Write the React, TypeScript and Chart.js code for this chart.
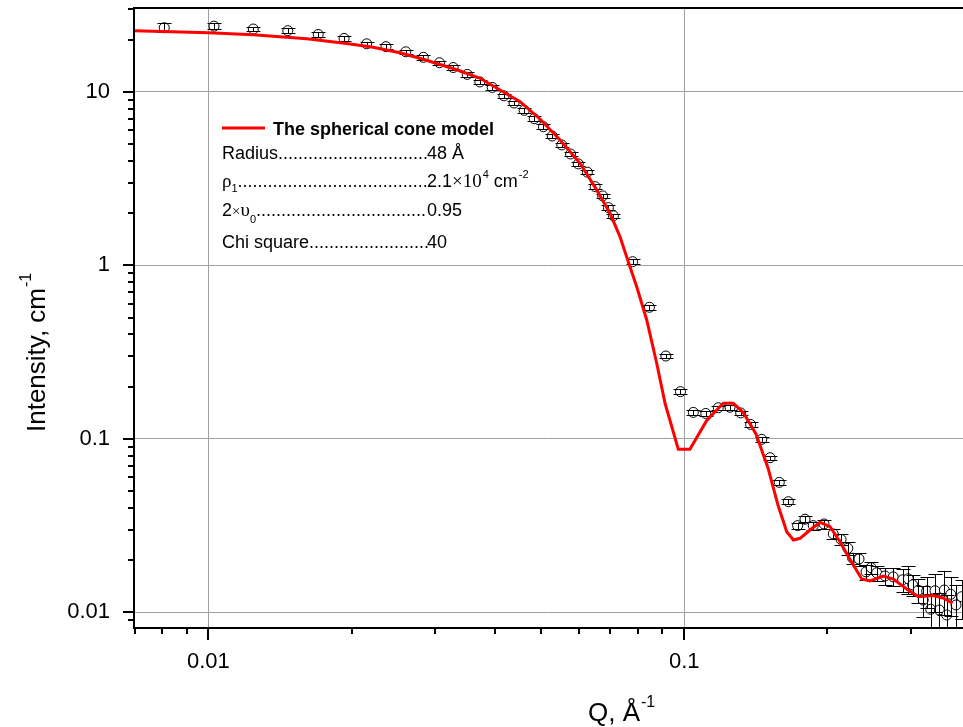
import React, { useEffect, useRef } from 'react';
import { Chart, registerables } from 'chart.js';

Chart.register(...registerables);

// ---------- data ----------
const qData = [
  0.00808, 0.01028, 0.01243, 0.01469, 0.01702, 0.01929, 0.02152, 0.02362, 0.0260, 0.0283,
  0.0306, 0.0327, 0.0350, 0.0372, 0.0395, 0.0418, 0.0439, 0.0461, 0.0484, 0.0506,
  0.0528, 0.0553, 0.0577, 0.0599, 0.0626, 0.0650, 0.0674, 0.0693, 0.0710,
  0.0779, 0.0845, 0.0915, 0.0982,
  0.1045, 0.1110, 0.1179, 0.1248, 0.1314, 0.1379, 0.1455, 0.1515, 0.1584, 0.1655,
  0.1731, 0.1794, 0.1867, 0.1967, 0.2057, 0.2136, 0.2207, 0.2259, 0.2330, 0.2410,
  0.2469, 0.2537, 0.2642, 0.2750, 0.2877, 0.2957, 0.3020, 0.3103, 0.3178, 0.3232,
  0.3296, 0.3365, 0.3436, 0.3520, 0.3561, 0.3631, 0.3725, 0.3829,
];
const intensityData = [
  23.4, 23.9, 23.0, 22.5, 21.4, 20.3, 18.9, 18.2, 17.0, 15.8,
  14.7, 13.8, 12.6, 11.4, 10.6, 9.48, 8.62, 7.82, 7.00, 6.29,
  5.56, 4.94, 4.38, 3.84, 3.44, 2.84, 2.51, 2.15, 1.93,
  1.049, 0.573, 0.300, 0.187,
  0.142, 0.140, 0.151, 0.152, 0.141, 0.121, 0.0993, 0.0778, 0.0561, 0.0434,
  0.0316, 0.0344, 0.0316, 0.0323, 0.0283, 0.0263, 0.0234, 0.0205, 0.0203, 0.0171,
  0.0181, 0.0169, 0.0162, 0.0160, 0.0154, 0.0156, 0.0144, 0.0134, 0.01177, 0.01327,
  0.01041, 0.01332, 0.01031, 0.01344, 0.00965, 0.0127, 0.01102, 0.0123,
];
const intensityErr = [
  1.4, 1.0, 0.69, 0.68, 0.64, 0.61, 0.57, 0.55, 0.51, 0.47,
  0.44, 0.41, 0.38, 0.34, 0.32, 0.28, 0.26, 0.23, 0.21, 0.19,
  0.17, 0.15, 0.13, 0.12, 0.10, 0.085, 0.075, 0.065, 0.058,
  0.031, 0.017, 0.009, 0.0056,
  0.0043, 0.0042, 0.0045, 0.0046, 0.0042, 0.0036, 0.0030, 0.0023, 0.0017, 0.0013,
  0.0013, 0.0014, 0.0016, 0.0019, 0.0020, 0.0018, 0.0019, 0.0016, 0.0018, 0.0017,
  0.0014, 0.0017, 0.0019, 0.0019, 0.0023, 0.0028, 0.0020, 0.0021, 0.0024, 0.0027,
  0.0023, 0.0033, 0.0026, 0.0038, 0.0029, 0.0032, 0.0033, 0.0031,
];

const modelQ = [
  0.00698, 0.0100, 0.01241, 0.01610, 0.01953, 0.02219, 0.02528, 0.02829, 0.03327, 0.03724,
  0.04101, 0.04519, 0.04977, 0.05483, 0.06040, 0.06548, 0.06983, 0.07330, 0.07629, 0.07947,
  0.08342, 0.08754, 0.09114, 0.09718, 0.1028, 0.1115, 0.1208, 0.1268, 0.1331, 0.1415,
  0.1500, 0.1574, 0.1642, 0.1696, 0.1752, 0.1838, 0.1929, 0.2025, 0.2125, 0.2209,
  0.2360, 0.2457, 0.2620, 0.2750, 0.2934, 0.3103, 0.3338, 0.3502, 0.3662,
];
const modelIntensity = [
  22.5, 21.9, 21.3, 20.2, 19.0, 18.05, 16.8, 15.4, 13.4, 11.96,
  10.24, 8.77, 6.97, 5.28, 3.87, 2.72, 1.994, 1.462, 1.049, 0.7525,
  0.4839, 0.2724, 0.1602, 0.0870, 0.0870, 0.1275, 0.1602, 0.1602, 0.1418, 0.1066,
  0.0679, 0.0415, 0.02914, 0.02611, 0.0267, 0.02981, 0.03302, 0.03114, 0.02552, 0.02112,
  0.01555, 0.01515, 0.01619, 0.01555, 0.01362, 0.0123, 0.0125, 0.01209, 0.01127,
];

// ---------- axes ----------
const xTickValues = [0.007, 0.008, 0.009, 0.01, 0.02, 0.03, 0.04, 0.05, 0.06, 0.07, 0.08, 0.09, 0.1, 0.2, 0.3];
const xMajorValues = [0.01, 0.1];
const xMajorLabels = ['0.01', '0.1'];
const yTickValues = [
  0.009, 0.01, 0.02, 0.03, 0.04, 0.05, 0.06, 0.07, 0.08, 0.09,
  0.1, 0.2, 0.3, 0.4, 0.5, 0.6, 0.7, 0.8, 0.9,
  1, 2, 3, 4, 5, 6, 7, 8, 9, 10, 20, 30,
];
const yMajorValues = [0.01, 0.1, 1, 10];
const yMajorLabels = ['0.01', '0.1', '1', '10'];
const xRange = [0.00698, 0.3853];
const yRange = [0.00812, 30.4];

const xTitle = ['Q, Å', '-1'];
const yTitle = ['Intensity, cm', '-1'];

// ---------- legend ----------
const legendTitle = 'The spherical cone model';
const legendRadius = ['Radius', '48 Å'];
const legendRho = ['ρ', '1', '2.1', '×10', '4', ' cm', '-2'];
const legendNu = ['2', '×', 'υ', '0', '0.95'];
const legendChi = ['Chi square', '40'];

const SANS = '"Liberation Sans", Arial, Helvetica, sans-serif';
const SERIF = '"Liberation Serif", "Times New Roman", serif';

const isMajor = (v: number) => Math.abs(Math.log10(v) - Math.round(Math.log10(v))) < 1e-9;

const overlayPlugin = {
  id: 'overlay',
  afterDatasetDraw(chart: any, args: any) {
    if (args.index !== 1) return;
    const ctx = chart.ctx;
    const xs = chart.scales.x;
    const ys = chart.scales.y;
    const a = chart.chartArea;
    ctx.save();
    ctx.beginPath();
    ctx.rect(a.left, a.top, a.right - a.left, a.bottom - a.top);
    ctx.clip();
    ctx.strokeStyle = '#000';
    ctx.lineWidth = 1;
    for (let i = 0; i < qData.length; i++) {
      const px = Math.round(xs.getPixelForValue(qData[i])) + 0.5;
      const yHi = Math.round(ys.getPixelForValue(intensityData[i] + intensityErr[i])) + 0.5;
      const yLo = Math.round(ys.getPixelForValue(intensityData[i] - intensityErr[i])) + 0.5;
      ctx.beginPath();
      ctx.moveTo(px, yHi);
      ctx.lineTo(px, yLo);
      ctx.moveTo(px - 7, yHi);
      ctx.lineTo(px + 7, yHi);
      ctx.moveTo(px - 7, yLo);
      ctx.lineTo(px + 7, yLo);
      ctx.stroke();
    }
    ctx.restore();
  },
  afterDraw(chart: any) {
    const ctx = chart.ctx;
    const xs = chart.scales.x;
    const ys = chart.scales.y;
    const a = chart.chartArea;
    ctx.save();
    // frame lines
    ctx.strokeStyle = '#000';
    ctx.lineWidth = 2;
    ctx.beginPath();
    ctx.moveTo(a.left, a.top);
    ctx.lineTo(a.right + 2, a.top);
    ctx.moveTo(a.left, a.top - 1);
    ctx.lineTo(a.left, a.bottom + 1);
    ctx.moveTo(a.left - 1, a.bottom);
    ctx.lineTo(a.right + 2, a.bottom);
    ctx.stroke();
    // tick marks
    ctx.beginPath();
    for (const v of xTickValues) {
      const px = Math.round(xs.getPixelForValue(v));
      if (px < a.left - 1 || px > a.right + 1) continue;
      const len = isMajor(v) ? 12 : 6;
      ctx.moveTo(px, a.bottom);
      ctx.lineTo(px, a.bottom + len);
    }
    for (const v of yTickValues) {
      const py = Math.round(ys.getPixelForValue(v));
      if (py < a.top - 1 || py > a.bottom + 1) continue;
      const len = isMajor(v) ? 11 : 6;
      ctx.moveTo(a.left, py);
      ctx.lineTo(a.left - len, py);
    }
    ctx.stroke();

    // axis titles
    ctx.fillStyle = '#000';
    ctx.textBaseline = 'alphabetic';
    ctx.textAlign = 'left';
    ctx.font = `26px ${SANS}`;
    const xMain = ctx.measureText(xTitle[0]).width;
    const xStart = 588;
    ctx.fillText(xTitle[0], xStart, 721);
    ctx.font = `16px ${SANS}`;
    ctx.fillText(xTitle[1], xStart + xMain + 1, 707);

    ctx.save();
    ctx.translate(45, 432);
    ctx.rotate(-Math.PI / 2);
    ctx.font = `26px ${SANS}`;
    const yMain = ctx.measureText(yTitle[0]).width;
    ctx.fillText(yTitle[0], 0, 0);
    ctx.font = `16px ${SANS}`;
    ctx.fillText(yTitle[1], yMain + 1, -14);
    ctx.restore();

    // legend
    ctx.strokeStyle = '#ff0000';
    ctx.lineWidth = 3;
    ctx.beginPath();
    ctx.moveTo(222, 128);
    ctx.lineTo(265, 128);
    ctx.stroke();
    ctx.font = `bold 18px ${SANS}`;
    ctx.fillText(legendTitle, 273, 135);

    const valueX = 427;
    const dots = (fromX: number, y: number) => {
      ctx.font = `18px ${SANS}`;
      const w = ctx.measureText('.').width;
      const n = Math.max(0, Math.round((valueX - fromX) / w));
      ctx.fillText('.'.repeat(n), fromX, y);
    };
    let x = 222;
    // Radius
    ctx.font = `18px ${SANS}`;
    ctx.fillText(legendRadius[0], x, 159);
    dots(x + ctx.measureText(legendRadius[0]).width, 159);
    ctx.font = `18px ${SANS}`;
    ctx.fillText(legendRadius[1], valueX, 159);
    // rho
    let y = 187;
    ctx.font = `19px ${SERIF}`;
    ctx.fillText(legendRho[0], x, y);
    x += ctx.measureText(legendRho[0]).width;
    ctx.font = `11px ${SANS}`;
    ctx.fillText(legendRho[1], x, y + 5);
    x += ctx.measureText(legendRho[1]).width;
    dots(x, y);
    let vx = valueX;
    ctx.font = `18px ${SANS}`;
    ctx.fillText(legendRho[2], vx, y);
    vx += ctx.measureText(legendRho[2]).width;
    ctx.font = `19px ${SERIF}`;
    ctx.fillText(legendRho[3], vx, y);
    vx += ctx.measureText(legendRho[3]).width + 1;
    ctx.font = `11px ${SANS}`;
    ctx.fillText(legendRho[4], vx, y - 9);
    vx += ctx.measureText(legendRho[4]).width;
    ctx.font = `18px ${SANS}`;
    ctx.fillText(legendRho[5], vx, y);
    vx += ctx.measureText(legendRho[5]).width + 1;
    ctx.font = `11px ${SANS}`;
    ctx.fillText(legendRho[6], vx, y - 9);
    // 2 x nu0
    x = 222;
    y = 216;
    ctx.font = `18px ${SANS}`;
    ctx.fillText(legendNu[0], x, y);
    x += ctx.measureText(legendNu[0]).width;
    ctx.font = `15px ${SERIF}`;
    ctx.fillText(legendNu[1], x, y);
    x += ctx.measureText(legendNu[1]).width;
    ctx.font = `19px ${SERIF}`;
    ctx.fillText(legendNu[2], x, y);
    x += ctx.measureText(legendNu[2]).width;
    ctx.font = `11px ${SANS}`;
    ctx.fillText(legendNu[3], x, y + 7);
    x += ctx.measureText(legendNu[3]).width;
    dots(x, y);
    ctx.font = `18px ${SANS}`;
    ctx.fillText(legendNu[4], valueX, y);
    // chi square
    x = 222;
    y = 248;
    ctx.font = `18px ${SANS}`;
    ctx.fillText(legendChi[0], x, y);
    dots(x + ctx.measureText(legendChi[0]).width, y);
    ctx.font = `18px ${SANS}`;
    ctx.fillText(legendChi[1], valueX, y);

    ctx.restore();
  },
};

export default function App() {
  const canvasRef = useRef<HTMLCanvasElement | null>(null);

  useEffect(() => {
    if (!canvasRef.current) return;
    Chart.defaults.font.family = SANS;
    const gridColor = (c: any) => (c.tick && isMajor(c.tick.value) ? '#a0a0a0' : 'rgba(0,0,0,0)');
    const chart = new Chart(canvasRef.current, {
      type: 'scatter',
      data: {
        datasets: [
          {
            type: 'line',
            label: 'The spherical cone model',
            data: modelQ.map((q, i) => ({ x: q, y: modelIntensity[i] })),
            borderColor: '#ff0000',
            borderWidth: 3,
            pointRadius: 0,
            tension: 0,
            fill: false,
          } as any,
          {
            type: 'scatter',
            label: 'data',
            data: qData.map((q, i) => ({ x: q, y: intensityData[i] })),
            pointRadius: 5,
            pointBorderWidth: 1,
            pointBorderColor: '#000',
            pointBackgroundColor: '#ffffff',
          },
        ],
      },
      options: {
        responsive: false,
        animation: false,
        devicePixelRatio: 1,
        layout: { autoPadding: false, padding: { top: 8, left: 0, right: 0, bottom: 0 } },
        plugins: { legend: { display: false }, tooltip: { enabled: false } },
        scales: {
          x: {
            type: 'logarithmic',
            position: 'bottom',
            min: xRange[0],
            max: xRange[1],
            afterBuildTicks: (s: any) => {
              s.ticks = xTickValues.map((v) => ({ value: v }));
            },
            afterFit: (s: any) => {
              s.height = 99;
              s.paddingLeft = 0;
              s.paddingRight = 0;
            },
            grid: { color: gridColor, lineWidth: 1, drawTicks: false },
            border: { display: false },
            ticks: {
              autoSkip: false,
              maxRotation: 0,
              padding: 21,
              color: '#000',
              font: { size: 22, family: SANS },
              callback: (v: any) => {
                const i = xMajorValues.indexOf(Number(v));
                return i >= 0 ? xMajorLabels[i] : '';
              },
            },
          },
          y: {
            type: 'logarithmic',
            min: yRange[0],
            max: yRange[1],
            afterBuildTicks: (s: any) => {
              s.ticks = yTickValues.map((v) => ({ value: v }));
            },
            afterFit: (s: any) => {
              s.width = 134;
              s.paddingTop = 0;
              s.paddingBottom = 0;
            },
            grid: { color: gridColor, lineWidth: 1, drawTicks: false },
            border: { display: false },
            ticks: {
              autoSkip: false,
              padding: 24,
              color: '#000',
              font: { size: 22, family: SANS },
              callback: (v: any) => {
                const i = yMajorValues.indexOf(Number(v));
                return i >= 0 ? yMajorLabels[i] : '';
              },
            },
          },
        },
      },
      plugins: [overlayPlugin],
    });
    return () => chart.destroy();
  }, []);

  return (
    <div style={{ position: 'fixed', left: 0, top: 0, width: 963, height: 727, background: '#fff' }}>
      <canvas ref={canvasRef} width={963} height={727} style={{ display: 'block' }} />
    </div>
  );
}
